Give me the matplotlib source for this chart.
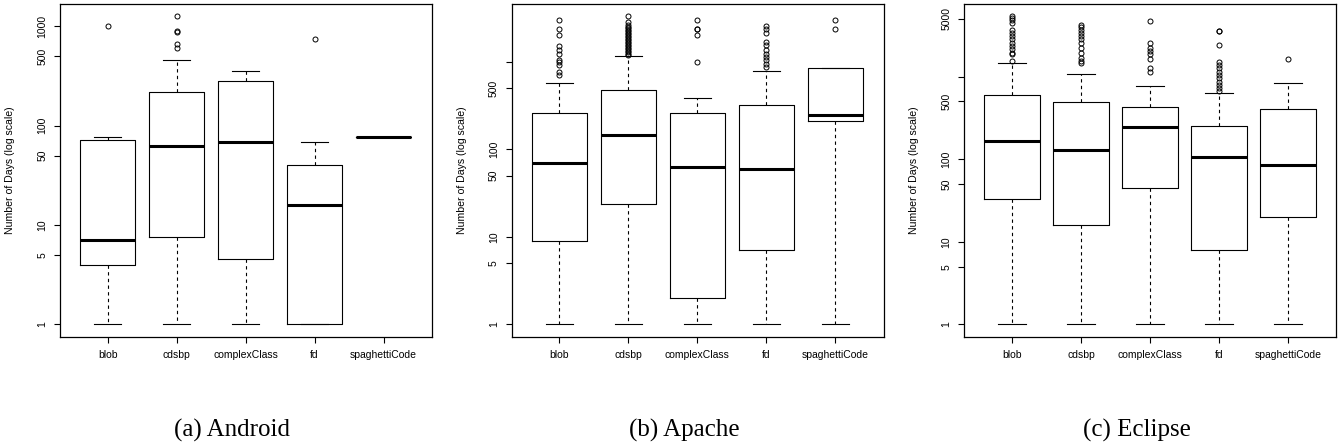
import numpy as np
import matplotlib.pyplot as plt

smells = ["blob", "cdsbp", "complexClass", "fd", "spaghettiCode"]

# (a) Android
android_whislo = [1, 1, 1, 1, 77]
android_q1 = [4, 7.5, 4.5, 1, 77]
android_med = [7, 63, 69, 16, 77]
android_q3 = [71, 217, 280, 40, 77]
android_whishi = [77, 462, 358, 69, 77]
android_fliers = [[1000], [610, 660, 885, 895, 1260], [], [740], []]
android_ticks = [1, 5, 10, 50, 100, 500, 1000]
android_ticklabels = ["1", "5", "10", "50", "100", "500", "1000"]

# (b) Apache
apache_whislo = [1, 1, 1, 1, 1]
apache_q1 = [9, 24, 2, 7, 208]
apache_med = [70, 146, 62, 60, 246]
apache_q3 = [261, 478, 261, 325, 850]
apache_whishi = [575, 1158, 381, 782, 850]
apache_fliers = [
    [703, 767, 915, 997, 1042, 1243, 1356, 1505, 2010, 2395, 3033],
    [1189, 1240, 1286, 1340, 1392, 1450, 1505, 1565, 1629, 1700, 1762, 1830,
     1906, 1980, 2062, 2150, 2233, 2320, 2415, 2510, 2612, 2826, 3306],
    [997, 2010, 2395, 2395, 3033],
    [872, 954, 1042, 1138, 1240, 1356, 1546, 1695, 2146, 2365, 2543],
    [2383, 3033],
]
apache_ticks = [1, 5, 10, 50, 100, 500, 1000]
apache_ticklabels = ["1", "5", "10", "50", "100", "500", ""]

# (c) Eclipse
eclipse_whislo = [1, 1, 1, 1, 1]
eclipse_q1 = [33, 15.8, 45, 8, 20]
eclipse_med = [168, 131, 248, 106, 85]
eclipse_q3 = [603, 491, 424, 255, 401]
eclipse_whishi = [1449, 1087, 780, 631, 840]
eclipse_fliers = [
    [1544, 1857, 1942, 2136, 2340, 2567, 2818, 3090, 3388, 3716, 4474, 4907, 5130, 5375],
    [1449, 1544, 1694, 1942, 2233, 2567, 2818, 3090, 3388, 3713, 3963, 4190],
    [1140, 1283, 1619, 1857, 2038, 2233, 2567, 4720],
    [661, 725, 795, 871, 955, 1048, 1148, 1259, 1383, 1516, 2388, 3614, 3614],
    [1619],
]
eclipse_ticks = [1, 5, 10, 50, 100, 500, 1000, 5000]
eclipse_ticklabels = ["1", "5", "10", "50", "100", "500", "", "5000"]

captions = ["(a) Android", "(b) Apache", "(c) Eclipse"]

panels = [
    (android_whislo, android_q1, android_med, android_q3, android_whishi, android_fliers,
     android_ticks, android_ticklabels),
    (apache_whislo, apache_q1, apache_med, apache_q3, apache_whishi, apache_fliers,
     apache_ticks, apache_ticklabels),
    (eclipse_whislo, eclipse_q1, eclipse_med, eclipse_q3, eclipse_whishi, eclipse_fliers,
     eclipse_ticks, eclipse_ticklabels),
]

W, H = 1338, 446
fig = plt.figure(figsize=(W / 100, H / 100), dpi=100)
plt.rcParams['font.family'] = ['Liberation Sans', 'DejaVu Sans']

lefts = [60, 511.7, 964.3]
caption_x = [232, 684, 1137]
ax_w, ax_top, ax_bot = 372, 4, 336.7

for k, (wlo, q1, med, q3, whi, fl, ticks, ticklabels) in enumerate(panels):
    ax = fig.add_axes([lefts[k] / W, 1 - ax_bot / H, ax_w / W, (ax_bot - ax_top) / H])
    stats = []
    for i, name in enumerate(smells):
        stats.append(dict(label=name, whislo=wlo[i], q1=q1[i], med=med[i],
                          q3=q3[i], whishi=whi[i], fliers=fl[i]))
    ax.bxp(stats, positions=range(1, 6), widths=0.8, capwidths=0.4,
           boxprops=dict(color='black', lw=0.8),
           medianprops=dict(color='black', lw=2.2, solid_capstyle='butt'),
           whiskerprops=dict(color='black', lw=0.8, linestyle=(0, (3, 3))),
           capprops=dict(color='black', lw=0.8),
           flierprops=dict(marker='o', markersize=3.6, markerfacecolor='none',
                           markeredgecolor='black', markeredgewidth=0.7))
    ax.set_yscale('log')
    # R-style range: data extent plus 4% on each side (log space)
    allv = wlo + whi + [v for f in fl for v in f]
    lo, hi = np.log10(min(allv)), np.log10(max(allv))
    r = hi - lo
    ax.set_ylim(10 ** (lo - 0.04 * r), 10 ** (hi + 0.04 * r))
    ax.set_xlim(0.31, 5.7)
    ax.set_yticks(ticks)
    ax.set_yticklabels(ticklabels)
    ax.yaxis.set_minor_locator(plt.NullLocator())
    ax.tick_params(axis='y', labelrotation=90, length=4.3, width=0.8, pad=5, labelsize=7.5)
    for lbl in ax.get_yticklabels():
        lbl.set_va('center')
    ax.tick_params(axis='x', length=4.3, width=0.8, pad=5.5, labelsize=7.5)
    for s in ax.spines.values():
        s.set_linewidth(0.9)
    ax.set_ylabel("Number of Days (log scale)", fontsize=7.6)
    ax.yaxis.set_label_coords(-45 / ax_w, 0.5)
    fig.text(caption_x[k] / W, 1 - 430 / H, captions[k], ha='center', va='center',
             fontsize=18, family=['Liberation Serif', 'DejaVu Serif'])

fig.savefig("out.png", dpi=100)
